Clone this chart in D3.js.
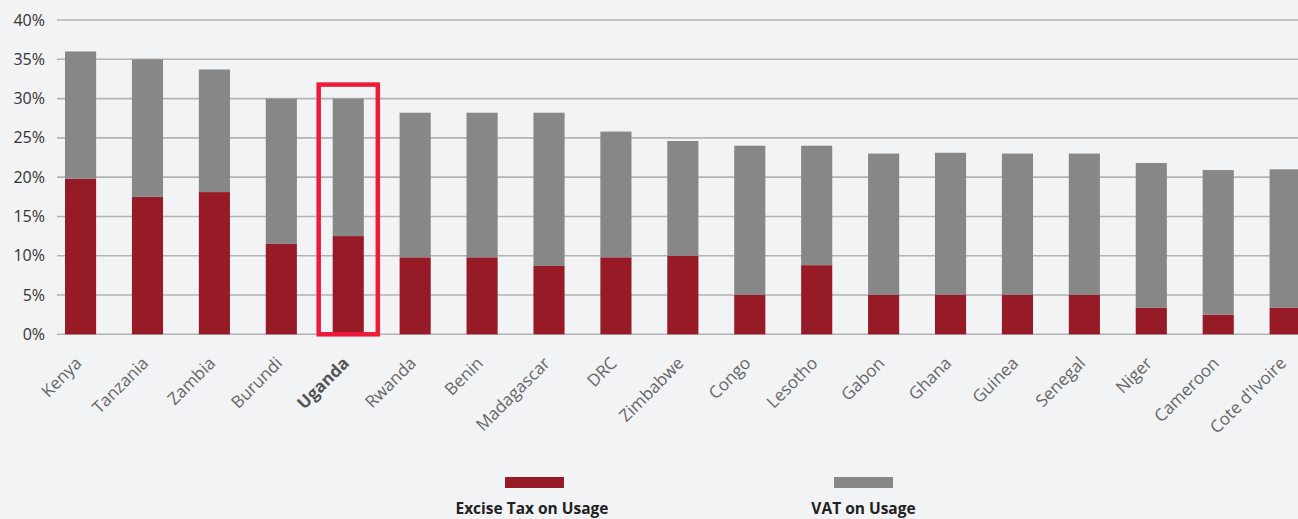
<!DOCTYPE html>
<html>
<head>
<meta charset="utf-8">
<script src="https://cdn.jsdelivr.net/npm/d3@7"></script>
<style>
  html, body { margin: 0; padding: 0; background: #f2f3f5; }
  svg { display: block; }
</style>
</head>
<body>
<svg id="chart" width="1298" height="519"></svg>
<script>
// Mobile usage taxes by country (% of usage price)
const countries = ["Kenya", "Tanzania", "Zambia", "Burundi", "Uganda", "Rwanda", "Benin",
  "Madagascar", "DRC", "Zimbabwe", "Congo", "Lesotho", "Gabon", "Ghana", "Guinea",
  "Senegal", "Niger", "Cameroon", "Cote d'Ivoire"];
const exciseTax = [19.8, 17.5, 18.1, 11.5, 12.5, 9.8, 9.8, 8.7, 9.8, 10.0, 5.0, 8.8, 5.0, 5.0, 5.0, 5.0, 3.4, 2.5, 3.4];
const vatTax    = [16.2, 17.5, 15.6, 18.5, 17.5, 18.4, 18.4, 19.5, 16.0, 14.6, 19.0, 15.2, 18.0, 18.1, 18.0, 18.0, 18.4, 18.4, 17.6];
const yTicks = [0, 5, 10, 15, 20, 25, 30, 35, 40];
const seriesNames = ["Excise Tax on Usage", "VAT on Usage"];
const highlighted = "Uganda";

const colors = { excise: "#971a27", vat: "#878787" };
const font = "'Open Sans', Lato, sans-serif";

const svg = d3.select("#chart");

const x = d3.scaleBand()
  .domain(countries)
  .range([29.2, 1336.5])
  .paddingInner(0.535)
  .paddingOuter(0.535);

const y = d3.scaleLinear().domain([0, 40]).range([334.3, 20]);

// gridlines
svg.append("g")
  .selectAll("line")
  .data(yTicks)
  .join("line")
  .attr("x1", 57).attr("x2", 1298)
  .attr("y1", d => y(d)).attr("y2", d => y(d))
  .attr("stroke", "#b3b3b5")
  .attr("stroke-width", 1.6);

// y axis labels
const yAxis = d3.axisLeft(y).tickValues(yTicks).tickFormat(d => d + "%").tickSize(0).tickPadding(0);
svg.append("g")
  .attr("transform", "translate(45,0)")
  .call(yAxis)
  .call(g => g.select(".domain").remove())
  .call(g => g.selectAll("text")
    .attr("font-family", font)
    .attr("font-size", 16)
    .attr("fill", "#333"));

// stacked bars
const rows = countries.map((c, i) => ({ country: c, excise: exciseTax[i], vat: vatTax[i] }));
const stack = d3.stack().keys(["excise", "vat"]);
const layers = stack(rows);

svg.append("g")
  .selectAll("g")
  .data(layers)
  .join("g")
  .attr("fill", d => colors[d.key])
  .selectAll("rect")
  .data(d => d)
  .join("rect")
  .attr("x", d => x(d.data.country))
  .attr("width", x.bandwidth())
  .attr("y", d => y(d[1]))
  .attr("height", d => y(d[0]) - y(d[1]));

// x axis labels, rotated 45 degrees
const xAxis = d3.axisBottom(x).tickSize(0).tickPadding(0);
svg.append("g")
  .attr("transform", `translate(0,${y(0)})`)
  .call(xAxis)
  .call(g => g.select(".domain").remove())
  .call(g => g.selectAll("text")
    .attr("font-family", font)
    .attr("font-size", 17)
    .attr("fill", d => d === highlighted ? "#555" : "#666")
    .attr("font-weight", d => d === highlighted ? "bold" : "normal")
    .attr("text-anchor", "end")
    .attr("dy", 0)
    .attr("y", 0)
    .attr("transform", "translate(2,30) rotate(-45)"));

// highlight box around the featured country
const hi = countries.indexOf(highlighted);
const hiTop = exciseTax[hi] + vatTax[hi];
svg.append("rect")
  .attr("x", x(highlighted) - 14)
  .attr("y", y(hiTop) - 14)
  .attr("width", x.bandwidth() + 28)
  .attr("height", y(0) - y(hiTop) + 14)
  .attr("fill", "none")
  .attr("stroke", "#ec1c39")
  .attr("stroke-width", 4.5);

// legend
const legendX = [534.5, 863.5];
const legend = svg.append("g")
  .selectAll("g")
  .data(seriesNames)
  .join("g")
  .attr("transform", (d, i) => `translate(${legendX[i]},0)`);
legend.append("rect")
  .attr("x", -29.5).attr("y", 477)
  .attr("width", 59).attr("height", 11)
  .attr("fill", (d, i) => i === 0 ? colors.excise : colors.vat);
legend.append("text")
  .attr("x", (d, i) => i === 0 ? -2.5 : 0)
  .attr("y", 514)
  .attr("text-anchor", "middle")
  .attr("font-family", font)
  .attr("font-weight", "bold")
  .attr("font-size", 15.5)
  .attr("fill", "#222")
  .text(d => d);
</script>
</body>
</html>
